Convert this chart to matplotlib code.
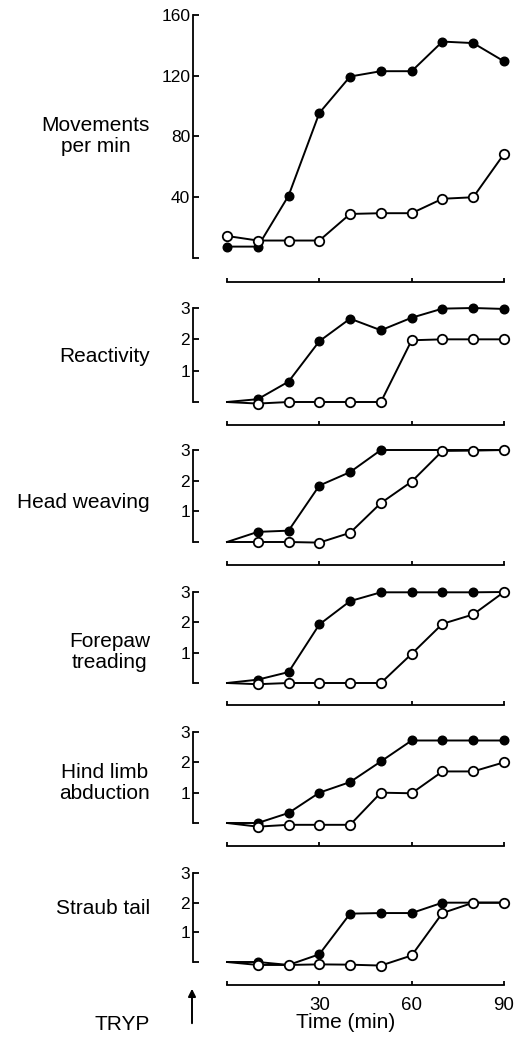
import matplotlib
matplotlib.use('Agg')
import matplotlib.pyplot as plt

plt.rcParams['font.family'] = ['Liberation Sans', 'DejaVu Sans']

# time points (min after TRYP)
times = [0, 10, 20, 30, 40, 50, 60, 70, 80, 90]

# movements per min
move_filled = [7.5, 7.5, 41, 95.5, 119.5, 123, 123, 142.5, 141.5, 129.5]
move_open = [14.5, 11.5, 11.5, 11.5, 29, 29.5, 29.5, 39, 40, 68.5]

# behaviour scores (0-3)
react_filled = [0, 0.09, 0.65, 1.94, 2.66, 2.29, 2.69, 2.98, 3.0, 2.97]
react_open = [0, -0.05, 0, 0, 0, 0, 1.97, 2.0, 2.0, 2.0]

head_filled = [0, 0.33, 0.37, 1.84, 2.28, 3.0, 3.0, 3.0, 3.0, 3.0]
head_open = [0, 0, 0, -0.02, 0.3, 1.27, 1.97, 2.97, 2.98, 3.0]

fore_filled = [0, 0.11, 0.36, 1.93, 2.7, 2.99, 2.99, 2.99, 2.99, 3.0]
fore_open = [0, -0.04, 0, 0, 0, 0, 0.96, 1.95, 2.26, 3.0]

hind_filled = [0, 0, 0.33, 1.0, 1.35, 2.03, 2.72, 2.72, 2.72, 2.72]
hind_open = [0, -0.12, -0.06, -0.06, -0.06, 1.0, 0.98, 1.7, 1.7, 2.0]

straub_filled = [0, 0, -0.1, 0.26, 1.63, 1.65, 1.65, 2.0, 2.0, 2.0]
straub_open = [0, -0.1, -0.1, -0.08, -0.09, -0.12, 0.22, 1.65, 2.0, 2.0]

W, H = 520, 1037
fig = plt.figure(figsize=(W / 100, H / 100), dpi=100)

# label, label y (px), top (px), bottom (px), ymax, yticks, filled, open, filled marks, open marks, x-line offset
panels = [
    ('Movements\nper min', 136, 15, 258, 160, [0, 40, 80, 120, 160],
     move_filled, move_open, list(range(10)), list(range(10)), 24),
    ('Reactivity', 357, 308, 402, 3, [0, 1, 2, 3],
     react_filled, react_open, list(range(1, 10)), list(range(1, 10)), 23),
    ('Head weaving', 502, 450, 542, 3, [0, 1, 2, 3],
     head_filled, head_open, [1, 2, 3, 4, 5], list(range(1, 10)), 23),
    ('Forepaw\ntreading', 652, 592, 683, 3, [0, 1, 2, 3],
     fore_filled, fore_open, list(range(1, 10)), list(range(1, 10)), 22),
    ('Hind limb\nabduction', 783, 732, 823, 3, [0, 1, 2, 3],
     hind_filled, hind_open, list(range(1, 10)), list(range(1, 10)), 23),
    ('Straub tail', 908, 873, 962, 3, [0, 1, 2, 3],
     straub_filled, straub_open, list(range(1, 10)), list(range(1, 10)), 23),
]

px2pt = 72 / 100
for i, (label, ly, top, bot, ymax, yt, filled, opn, fmarks, omarks, off) in enumerate(panels):
    ax = fig.add_axes([227 / W, 1 - bot / H, 277 / W, (bot - top) / H])
    ax.patch.set_alpha(0)
    ax.plot(times, filled, '-o', color='k', mfc='k', mec='k', ms=6.2, lw=1.4,
            markevery=fmarks, clip_on=False, zorder=3)
    ax.plot(times, opn, '-o', color='k', mfc='white', mec='k', ms=6.8, mew=1.3, lw=1.4,
            markevery=omarks, clip_on=False, zorder=4)
    ax.set_xlim(0, 90)
    ax.set_ylim(0, ymax)
    for s in ['top', 'right']:
        ax.spines[s].set_visible(False)
    ax.spines['left'].set_position(('outward', 34 * px2pt))
    ax.spines['left'].set_bounds(0, ymax)
    ax.spines['bottom'].set_position(('outward', off * px2pt))
    ax.spines['bottom'].set_bounds(0, 90)
    for s in ['left', 'bottom']:
        ax.spines[s].set_linewidth(1.3)
    ax.set_yticks(yt)
    ax.set_yticklabels([''] + [str(v) for v in yt[1:]])
    ax.set_xticks([0, 30, 60, 90])
    if i == len(panels) - 1:
        ax.set_xticklabels(['', '30', '60', '90'])
    else:
        ax.set_xticklabels([])
    ax.tick_params(axis='y', direction='in', length=4, width=1.3, pad=2, labelsize=12.5)
    ax.tick_params(axis='x', direction='in', length=3, width=1.3, pad=9, labelsize=13.5)
    fig.text(150 / W, 1 - ly / H, label, ha='right', va='center',
             multialignment='center', fontsize=15, linespacing=1.1)

fig.text(346 / W, 1 - 1023 / H, 'Time (min)', ha='center', va='center', fontsize=15)
fig.text(122 / W, 1 - 1025 / H, 'TRYP', ha='center', va='center', fontsize=15)
ax.annotate('', xy=(192 / W, 1 - 986 / H), xytext=(192 / W, 1 - 1026 / H),
            xycoords='figure fraction', textcoords='figure fraction',
            arrowprops=dict(arrowstyle='-|>', color='k', lw=1.4, mutation_scale=11),
            annotation_clip=False)

fig.savefig('out.png', dpi=100)
